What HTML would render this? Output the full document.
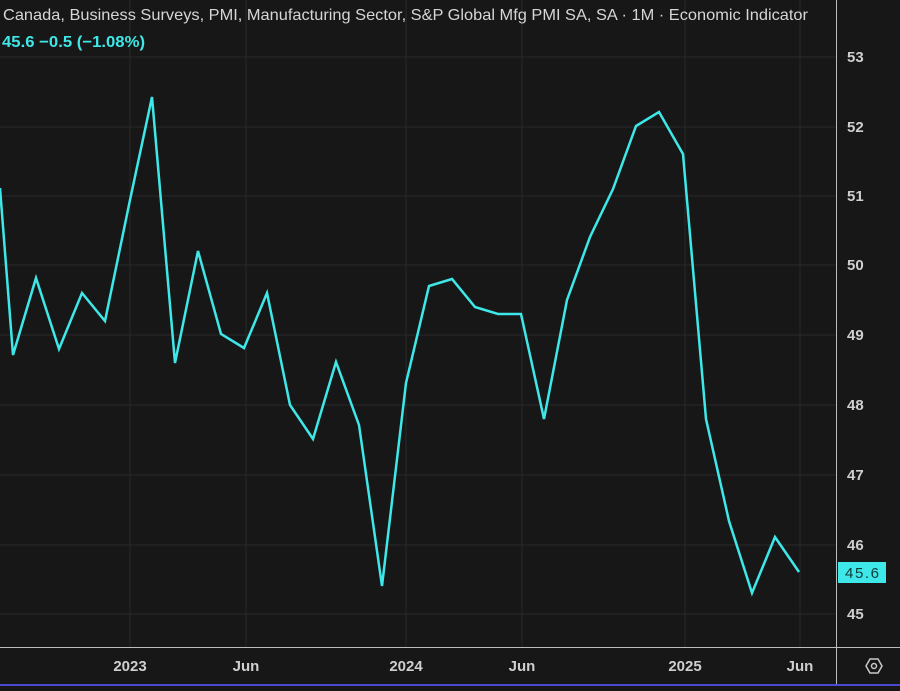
<!DOCTYPE html><html><head><style>
body{margin:0;background:#171717;width:900px;height:686px;overflow:hidden;font-family:"Liberation Sans",sans-serif}
</style></head><body>
<svg width="900" height="686" xmlns="http://www.w3.org/2000/svg">
<rect width="900" height="686" fill="#171717"/>
<g stroke="#2a2a2a" stroke-width="1">
<line x1="0" y1="57" x2="836" y2="57"/><line x1="0" y1="127" x2="836" y2="127"/><line x1="0" y1="196" x2="836" y2="196"/><line x1="0" y1="265" x2="836" y2="265"/><line x1="0" y1="335" x2="836" y2="335"/><line x1="0" y1="405" x2="836" y2="405"/><line x1="0" y1="475" x2="836" y2="475"/><line x1="0" y1="545" x2="836" y2="545"/><line x1="0" y1="614" x2="836" y2="614"/>
<line x1="130" y1="0" x2="130" y2="647"/><line x1="246" y1="0" x2="246" y2="647"/><line x1="406" y1="0" x2="406" y2="647"/><line x1="522" y1="0" x2="522" y2="647"/><line x1="685" y1="0" x2="685" y2="647"/><line x1="800" y1="0" x2="800" y2="647"/>
</g>
<line x1="0" y1="647.5" x2="900" y2="647.5" stroke="#bdbdbd" stroke-width="1"/>
<line x1="836.5" y1="0" x2="836.5" y2="686" stroke="#bdbdbd" stroke-width="1"/>
<line x1="0" y1="685" x2="900" y2="685" stroke="#4a4ad0" stroke-width="2"/>
<polyline fill="none" stroke="#3ee8e8" stroke-width="2.5" stroke-linejoin="miter" points="0,188 13,355 36,278 59,349 82,293 105,321 130,200 152,97 175,363 198,251 221,334 244,348 267,293 290,405 313,439 336,362 359,425 382,586 406,383 429,286 452,279 475,307 498,314 521,314 544,419 567,300 590,237 613,189 636,126 659,112 683,154 706,419 729,521 752,593 775,537 799,572"/>
<g fill="#cfcfcf" font-size="15" font-weight="bold">
<text x="847" y="62">53</text><text x="847" y="132">52</text><text x="847" y="201">51</text><text x="847" y="270">50</text><text x="847" y="340">49</text><text x="847" y="410">48</text><text x="847" y="480">47</text><text x="847" y="550">46</text><text x="847" y="619">45</text>
</g>
<rect x="838" y="562" width="48" height="21" fill="#3ee8e8"/>
<text x="845" y="578" font-size="15" fill="#0e3a3a" textLength="34">45.6</text>
<g fill="#cfcfcf" font-size="15" font-weight="bold" text-anchor="middle">
<text x="130" y="671">2023</text><text x="246" y="671">Jun</text><text x="406" y="671">2024</text><text x="522" y="671">Jun</text><text x="685" y="671">2025</text><text x="800" y="671">Jun</text>
</g>
<polygon points="866,666 870,659 878,659 882,666 878,673 870,673" fill="none" stroke="#c8c8c8" stroke-width="1.5"/>
<circle cx="874" cy="666" r="2.5" fill="none" stroke="#c8c8c8" stroke-width="1.5"/>
<text x="3" y="20" font-size="16" fill="#d6d6d6" textLength="805" lengthAdjust="spacingAndGlyphs">Canada, Business Surveys, PMI, Manufacturing Sector, S&amp;P Global Mfg PMI SA, SA · 1M · Economic Indicator</text>
<text x="2" y="47" font-size="16" font-weight="bold" fill="#3ee8e8" textLength="143" lengthAdjust="spacingAndGlyphs">45.6  −0.5 (−1.08%)</text>
</svg>
</body></html>
